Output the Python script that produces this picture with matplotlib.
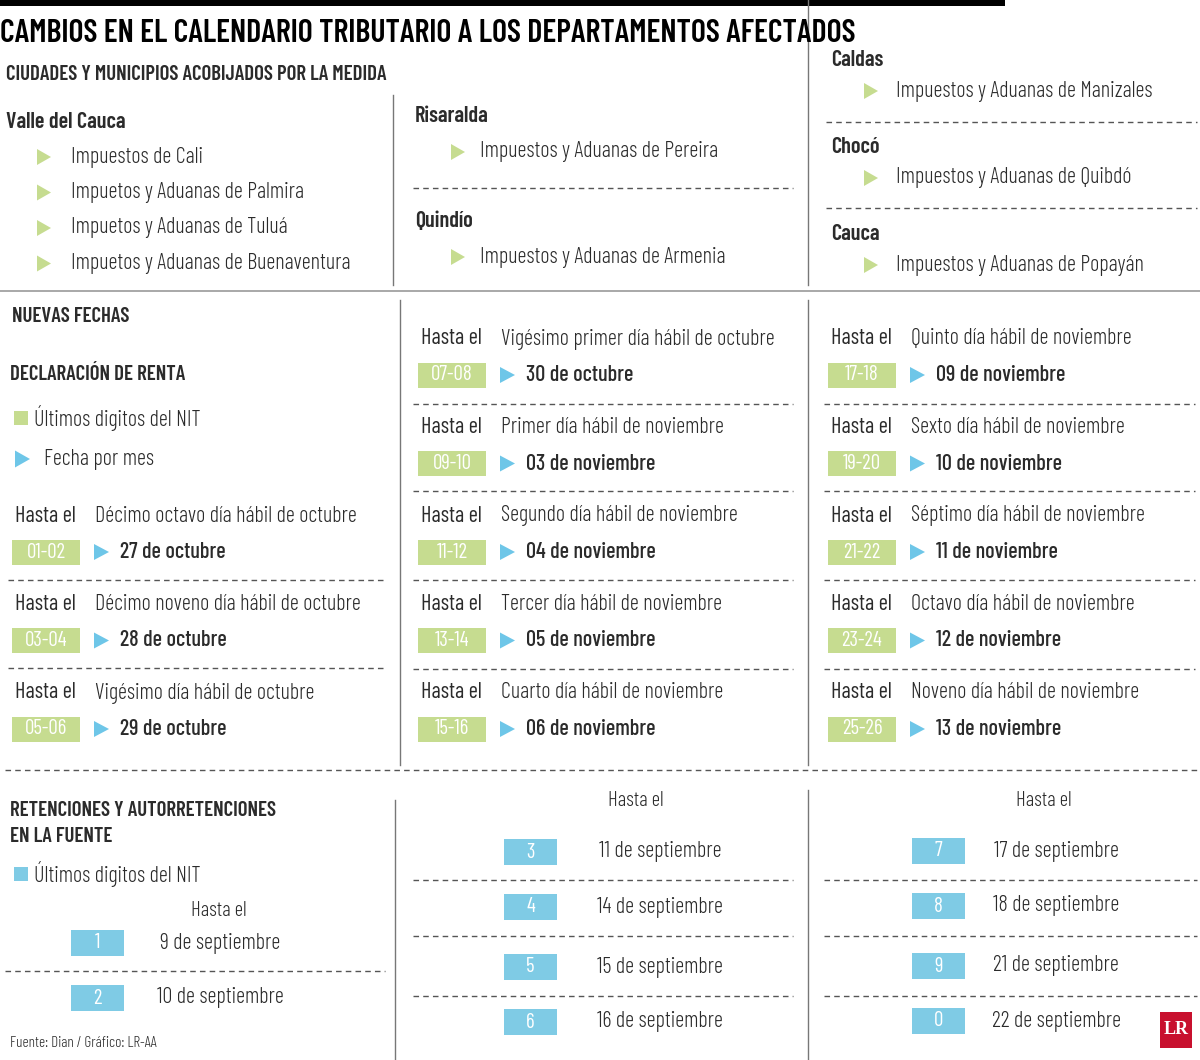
import matplotlib
matplotlib.use("Agg")
import matplotlib.pyplot as plt
import matplotlib.font_manager as fm
from matplotlib.patches import Rectangle, Polygon

_avail = {f.name for f in fm.fontManager.ttflist}
_cands = ['Barlow Condensed', 'Saira ExtraCondensed', 'Sofia Sans Extra Condensed', 'Yanone Kaffeesatz']
FONT = next((c for c in _cands if c in _avail), 'DejaVu Sans')
FAM = [FONT, 'DejaVu Sans']
TXT = '#2b2b2b'
GREEN = '#c6dc90'
BLUE = '#7fcbe5'
ARROW_G = '#c6dc90'
ARROW_B = '#6ec6e8'
LINE = '#555555'

title = "CAMBIOS EN EL CALENDARIO TRIBUTARIO A LOS DEPARTAMENTOS AFECTADOS"
subtitle = "CIUDADES Y MUNICIPIOS ACOBIJADOS POR LA MEDIDA"
valle = ["Impuestos de Cali", "Impuetos y Aduanas de Palmira",
         "Impuetos y Aduanas de Tuluá", "Impuetos y Aduanas de Buenaventura"]
mid_deps = [("Risaralda", "Impuestos y Aduanas de Pereira"),
            ("Quindío", "Impuestos y Aduanas de Armenia")]
right_deps = [("Caldas", "Impuestos y Aduanas de Manizales"),
              ("Chocó", "Impuestos y Aduanas de Quibdó"),
              ("Cauca", "Impuestos y Aduanas de Popayán")]

renta_nit = ["01-02", "03-04", "05-06", "07-08", "09-10", "11-12", "13-14", "15-16",
             "17-18", "19-20", "21-22", "23-24", "25-26"]
renta_desc = ["Décimo octavo día hábil de octubre", "Décimo noveno día hábil de octubre",
              "Vigésimo día hábil de octubre", "Vigésimo primer día hábil de octubre",
              "Primer día hábil de noviembre", "Segundo día hábil de noviembre",
              "Tercer día hábil de noviembre", "Cuarto día hábil de noviembre",
              "Quinto día hábil de noviembre", "Sexto día hábil de noviembre",
              "Séptimo día hábil de noviembre", "Octavo día hábil de noviembre",
              "Noveno día hábil de noviembre"]
renta_fecha = ["27 de octubre", "28 de octubre", "29 de octubre", "30 de octubre",
               "03 de noviembre", "04 de noviembre", "05 de noviembre", "06 de noviembre",
               "09 de noviembre", "10 de noviembre", "11 de noviembre", "12 de noviembre",
               "13 de noviembre"]

ret_nit = ["1", "2", "3", "4", "5", "6", "7", "8", "9", "0"]
ret_fecha = ["9 de septiembre", "10 de septiembre", "11 de septiembre", "14 de septiembre",
             "15 de septiembre", "16 de septiembre", "17 de septiembre", "18 de septiembre",
             "21 de septiembre", "22 de septiembre"]

fig = plt.figure(figsize=(12, 10.6), dpi=100)
ax = fig.add_axes([0, 0, 1, 1])
ax.set_xlim(0, 1200); ax.set_ylim(1060, 0); ax.axis('off')

def t(x, y, s, size=15, w=300, color=TXT, ha='left'):
    ax.text(x, y, s, fontsize=size, fontweight=w,
            color=color, ha=ha, va='center', family=FAM)

def tri(x, y, c, w=14, h=16):
    ax.add_patch(Polygon([(x, y - h/2), (x, y + h/2), (x + w, y)], closed=True, color=c, lw=0))

def box(x, y, w, h, c, s):
    ax.add_patch(Rectangle((x, y - h/2), w, h, color=c, lw=0))
    t(x + w/2, y, s, size=15, w=400, color='white', ha='center')

def hl(x0, x1, y, dashed=True, c=LINE, lw=1):
    ax.plot([x0, x1], [y, y], color=c, lw=lw, ls=(0, (4, 3)) if dashed else '-')

def vl(x, y0, y1, c='#777777'):
    ax.plot([x, x], [y0, y1], color=c, lw=1)

B = 600
# top
ax.add_patch(Rectangle((0, 0), 1005, 6, color='black', lw=0))
t(0, 33, title, size=23, w=B, color='black')
t(6, 74, subtitle, size=15, w=B)
t(6, 122, "Valle del Cauca", size=16, w=B)
for i, s in enumerate(valle):
    y = 157 + i*35.5
    tri(37, y, ARROW_G); t(71, y, s, size=16)
for i, (d, s) in enumerate(mid_deps):
    y0 = 116 + i*105
    t(415, y0, d, size=16, w=B)
    tri(451, y0 + 36, ARROW_G); t(480, y0 + 36, s, size=16)
hl(413, 793, 188)
for i, (d, s) in enumerate(right_deps):
    y0 = 60 + i*87
    t(831, y0, d, size=16, w=B)
    tri(864, y0 + 31, ARROW_G); t(896, y0 + 31, s, size=16)
hl(826, 1197, 122); hl(826, 1197, 208)
vl(393, 95, 285); vl(808, 0, 285)
hl(0, 1200, 291, dashed=False, c='#999999', lw=1.2)

# nuevas fechas
t(12, 317, "NUEVAS FECHAS", size=15, w=B)
t(10, 374, "DECLARACIÓN DE RENTA", size=15, w=B)
ax.add_patch(Rectangle((14, 411), 14, 14, color=GREEN, lw=0))
t(34, 418, "Últimos digitos del NIT", size=16)
tri(15, 459, ARROW_B, w=15, h=17); t(44, 459, "Fecha por mes", size=16)

cols = [(12, [0, 1, 2], 516), (418, [3, 4, 5, 6, 7], 339), (828, [8, 9, 10, 11, 12], 339)]
for x0, idxs, ytop in cols:
    for k, i in enumerate(idxs):
        y = ytop + k*88.5
        t(x0 + 3, y, "Hasta el", size=16, w=400)
        t(x0 + 83, y, renta_desc[i], size=16)
        box(x0, y + 36, 68, 25, GREEN, renta_nit[i])
        tri(x0 + 82, y + 36, ARROW_B, w=15, h=16)
        t(x0 + 108, y + 36, renta_fecha[i], size=16, w=500)
for y in [580, 668]:
    hl(8, 385, y)
for y in [404, 491, 580, 669]:
    hl(413, 793, y); hl(824, 1195, y)
vl(400, 300, 765); vl(808, 300, 765)
hl(5, 1200, 770)

# retenciones
t(10, 810, "RETENCIONES Y AUTORRETENCIONES", size=15, w=B)
t(10, 836, "EN LA FUENTE", size=15, w=B)
ax.add_patch(Rectangle((14, 867), 14, 14, color=BLUE, lw=0))
t(34, 874, "Últimos digitos del NIT", size=16)
t(219, 910, "Hasta el", size=15, ha='center')
for k in range(2):
    y = 943 + k*55
    box(71, y, 53, 26, BLUE, ret_nit[k])
    t(220, y, ret_fecha[k], size=16, ha='center')
hl(5, 385, 971)
t(636, 801, "Hasta el", size=15, ha='center')
t(1044, 801, "Hasta el", size=15, ha='center')
ys = [852, 907, 967, 1022]
for k in range(4):
    box(504, ys[k], 53, 26, BLUE, ret_nit[2 + k])
    t(660, ys[k], ret_fecha[2 + k], size=16, ha='center')
    box(912, ys[k] - 1, 53, 26, BLUE, ret_nit[6 + k])
    t(1056, ys[k] - 1, ret_fecha[6 + k], size=16, ha='center')
for y in [880, 936, 996]:
    hl(413, 793, y); hl(824, 1197, y)
vl(395, 800, 1060); vl(808, 790, 1060)
t(10, 1043, "Fuente: Dian / Gráfico: LR-AA", size=11)
ax.add_patch(Rectangle((1160, 1012), 32, 36, color='#c8102e', lw=0))
ax.text(1176, 1030, "LR", fontsize=13, fontweight='bold', color='white', ha='center',
        va='center', family=['Liberation Serif', 'DejaVu Serif'])

fig.savefig("out.png", dpi=100)
